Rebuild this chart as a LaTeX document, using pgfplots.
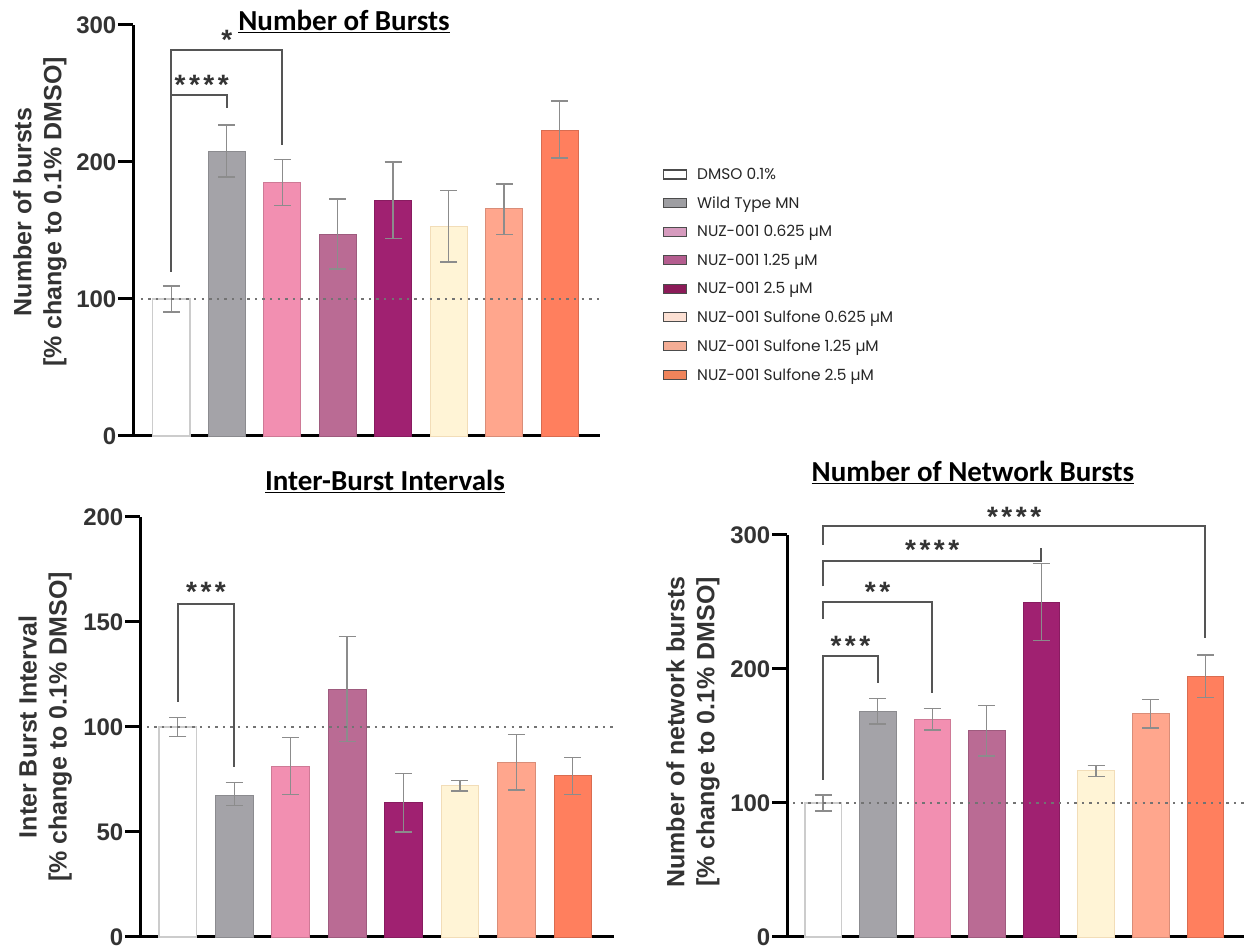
\documentclass[border=0pt]{standalone}
\usepackage{pgfplots}
\pgfplotsset{compat=1.18}
\usepackage{fontspec}
\setmainfont{Liberation Sans}
\newfontfamily\titlefont{Carlito}
\newfontfamily\legfont{Poppins}

\definecolor{cWT}{HTML}{A4A3A8}
\definecolor{cA}{HTML}{F28FB1}
\definecolor{cB}{HTML}{BA6B94}
\definecolor{cC}{HTML}{A02171}
\definecolor{cD}{HTML}{FFF4D6}
\definecolor{cE}{HTML}{FFA68D}
\definecolor{cF}{HTML}{FF7F5E}
\definecolor{lWT}{HTML}{9E9EA2}
\definecolor{lA}{HTML}{D69BBE}
\definecolor{lB}{HTML}{B45D8F}
\definecolor{lC}{HTML}{8B1B58}
\definecolor{lD}{HTML}{FCE0D3}
\definecolor{lE}{HTML}{F4AD95}
\definecolor{lF}{HTML}{EF845B}
\definecolor{axgray}{HTML}{333333}
\definecolor{brk}{HTML}{555555}

\pgfplotsset{
  panel/.style={
    scale only axis, anchor=south west, clip=false,
    axis x line=bottom, axis y line=left,
    axis line style={line width=3pt, black, -},
    xtick=\empty, ymin=0,
    ytick style={line width=3pt, black},
    major tick length=15pt, tick align=outside,
    yticklabel style={font=\fontsize{24}{24}\selectfont\bfseries, text=axgray, inner sep=1.5pt},
    /pgf/number format/assume math mode=true,
    ylabel style={font=\fontsize{25}{30}\selectfont\bfseries, text=axgray, align=center, anchor=center},
  },
  barplot/.style={ybar, bar width=0.67, bar shift=0pt, line width=0.8pt,
    error bars/y dir=both, error bars/y explicit,
    error bars/error bar style={line width=1.3pt, black!45},
    error bars/error mark options={line width=1.3pt, black!45, mark size=8.5pt, rotate=90}},
  dotline/.style={sharp plot, no marks, black!55, line width=2.4pt, dash pattern=on 2.4pt off 5.2pt},
  brline/.style={sharp plot, no marks, brk, line width=2pt},
}
\tikzset{star/.style={font=\fontsize{28}{28}\selectfont\bfseries, text=axgray, anchor=base, yshift=-16pt, inner sep=0pt}}
\newcommand{\sk}{\kern3.5pt}

\begin{document}
\begin{tikzpicture}
\useasboundingbox (0pt,0pt) rectangle (1244pt,947pt);

% ---------------- Top-left: Number of Bursts ----------------
\begin{axis}[panel, at={(133pt,511pt)}, width=467pt, height=411pt,
  xmin=-0.69, xmax=7.73, ymax=300, ytick={0,100,200,300},
  ylabel={Number of bursts\\{[}\% change to 0.1\% DMSO{]}},
  ylabel style={at={(axis description cs:-0.199,0.545)}},
  legend style={at={(axis description cs:1.128,0.662)}, anchor=north west, draw=none, fill=none,
    font=\legfont\fontsize{15.4}{17}\selectfont, text=black!85, row sep=11.6pt, column sep=8pt, cells={anchor=west}},
  legend image code/.code={\draw[#1, line width=1.2pt] (0pt,-4.5pt) rectangle (23pt,4.5pt);},
]
\addlegendimage{fill=white, draw=black!70}\addlegendentry{DMSO 0.1\%}
\addlegendimage{fill=lWT, draw=black!70}\addlegendentry{Wild Type MN}
\addlegendimage{fill=lA, draw=black!70}\addlegendentry{NUZ-001 0.625 µM}
\addlegendimage{fill=lB, draw=black!70}\addlegendentry{NUZ-001 1.25 µM}
\addlegendimage{fill=lC, draw=black!70}\addlegendentry{NUZ-001 2.5 µM}
\addlegendimage{fill=lD, draw=black!70}\addlegendentry{NUZ-001 Sulfone 0.625 µM}
\addlegendimage{fill=lE, draw=black!70}\addlegendentry{NUZ-001 Sulfone 1.25 µM}
\addlegendimage{fill=lF, draw=black!70}\addlegendentry{NUZ-001 Sulfone 2.5 µM}

\addplot[barplot, forget plot, fill=white, draw=black!20, line width=1.5pt] coordinates {(0,100) +- (0,9.5)};
\addplot[barplot, forget plot, fill=cWT, draw=cWT!85!black] coordinates {(1,208) +- (0,19)};
\addplot[barplot, forget plot, fill=cA, draw=cA!85!black] coordinates {(2,185) += (0,17) -= (0,17)};
\addplot[barplot, forget plot, fill=cB, draw=cB!85!black] coordinates {(3,147) += (0,26) -= (0,25)};
\addplot[barplot, forget plot, fill=cC, draw=cC!85!black] coordinates {(4,172) += (0,28) -= (0,28)};
\addplot[barplot, forget plot, fill=cD, draw=cD!80!brown] coordinates {(5,153) += (0,26) -= (0,26)};
\addplot[barplot, forget plot, fill=cE, draw=cE!85!black] coordinates {(6,166) += (0,18) -= (0,19)};
\addplot[barplot, forget plot, fill=cF, draw=cF!85!black] coordinates {(7,223) += (0,21.5) -= (0,20)};
\addplot[dotline, forget plot] coordinates {(-0.55,100) (7.73,100)};
\addplot[brline, forget plot] coordinates {(0,120) (0,281.4) (2,281.4) (2,212.3)};
\addplot[brline, forget plot] coordinates {(0,120) (0,249) (1,249) (1,239.6)};
\node[star] at (axis cs:1,294) {*};
\node[star] at (axis cs:0.55,261) {*\sk*\sk*\sk*};
\end{axis}

% ---------------- Bottom-left: Inter-Burst Intervals ----------------
\begin{axis}[panel, at={(140pt,10pt)}, width=474pt, height=420pt,
  xmin=-0.67, xmax=7.73, ymax=200, ytick={0,50,100,150,200},
  ylabel={Inter Burst Interval\\{[}\% change to 0.1\% DMSO{]}},
  ylabel style={at={(axis description cs:-0.20,0.5)}},
]
\addplot[barplot, fill=white, draw=black!20, line width=1.5pt] coordinates {(0,100) +- (0,4.5)};
\addplot[barplot, fill=cWT, draw=cWT!85!black] coordinates {(1,67.5) += (0,6) -= (0,5)};
\addplot[barplot, fill=cA, draw=cA!85!black] coordinates {(2,81) += (0,14) -= (0,13)};
\addplot[barplot, fill=cB, draw=cB!85!black] coordinates {(3,118) += (0,25) -= (0,25)};
\addplot[barplot, fill=cC, draw=cC!85!black] coordinates {(4,64) += (0,14) -= (0,14)};
\addplot[barplot, fill=cD, draw=cD!80!brown] coordinates {(5,72) += (0,2.5) -= (0,2.5)};
\addplot[barplot, fill=cE, draw=cE!85!black] coordinates {(6,83) += (0,13.5) -= (0,13)};
\addplot[barplot, fill=cF, draw=cF!85!black] coordinates {(7,77) += (0,8.5) -= (0,9)};
\addplot[dotline] coordinates {(-0.55,100) (7.73,100)};
\addplot[brline] coordinates {(0,112) (0,158.6) (1,158.6) (1,80.8)};
\node[star] at (axis cs:0.5,167.3) {*\sk*\sk*};
\end{axis}

% ---------------- Bottom-right: Number of Network Bursts ----------------
\begin{axis}[panel, at={(787pt,10pt)}, width=457pt, height=402pt,
  xmin=-0.66, xmax=7.71, ymax=300, ytick={0,100,200,300},
  ylabel={Number of network bursts\\{[}\% change to 0.1\% DMSO{]}},
  ylabel style={at={(axis description cs:-0.206,0.51)}},
]
\addplot[barplot, fill=white, draw=black!20, line width=1.5pt] coordinates {(0,100) +- (0,6)};
\addplot[barplot, fill=cWT, draw=cWT!85!black] coordinates {(1,168.5) +- (0,9.5)};
\addplot[barplot, fill=cA, draw=cA!85!black] coordinates {(2,162.5) +- (0,8)};
\addplot[barplot, fill=cB, draw=cB!85!black] coordinates {(3,154) +- (0,19)};
\addplot[barplot, fill=cC, draw=cC!85!black] coordinates {(4,250) +- (0,28.5)};
\addplot[barplot, fill=cD, draw=cD!80!brown] coordinates {(5,124) +- (0,4)};
\addplot[barplot, fill=cE, draw=cE!85!black] coordinates {(6,166.5) +- (0,10.5)};
\addplot[barplot, fill=cF, draw=cF!85!black] coordinates {(7,194.5) +- (0,16)};
\addplot[dotline] coordinates {(-0.55,100) (7.71,100)};
\addplot[brline] coordinates {(0,117.3) (0,209.9) (1,209.9) (1,189.4)};
\addplot[brline] coordinates {(0,237.5) (0,249.9) (2,249.9) (2,182.2)};
\addplot[brline] coordinates {(0,261.7) (0,280.7) (4,280.7) (4,290.1)};
\addplot[brline] coordinates {(0,292.6) (0,306.7) (7,306.7) (7,223)};
\node[star] at (axis cs:0.5,222) {*\sk*\sk*};
\node[star] at (axis cs:1,262.2) {*\sk*};
\node[star] at (axis cs:2,293.8) {*\sk*\sk*\sk*};
\node[star] at (axis cs:3.5,318.5) {*\sk*\sk*\sk*};
\end{axis}

% ---------------- Titles ----------------
\node[font=\titlefont\bfseries\fontsize{29}{29}\selectfont, anchor=base] at (344pt,916pt) {\underline{Number of Bursts}};
\node[font=\titlefont\bfseries\fontsize{29}{29}\selectfont, anchor=base] at (385pt,456pt) {\underline{Inter-Burst Intervals}};
\node[font=\titlefont\bfseries\fontsize{29}{29}\selectfont, anchor=base] at (973pt,465pt) {\underline{Number of Network Bursts}};
\end{tikzpicture}
\end{document}
